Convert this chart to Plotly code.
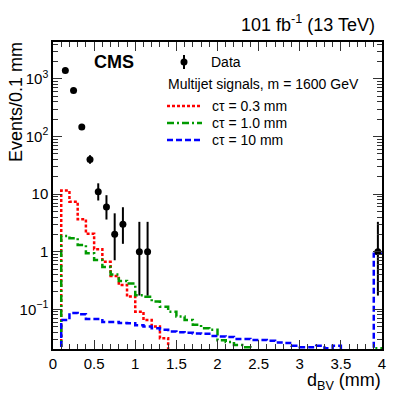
import numpy as np
import plotly.graph_objects as go

# ---------------- data ----------------
bin_low_edges = [round(0.1 * i, 1) for i in range(1, 40)]  # 0.1 ... 3.9 (bin width 0.1 mm)
bin_width = 0.1

data_centers = [0.15, 0.25, 0.35, 0.45, 0.55, 0.65, 0.75, 0.85, 1.05, 1.15, 3.95]
data_counts = [1400, 630, 147, 40, 11, 6, 2, 3, 1, 1, 1]
data_err_up = [38, 25.6, 13.1, 7.4, 4.4, 3.58, 2.64, 2.92, 2.30, 2.30, 2.30]
data_err_down = [37, 25, 12.1, 6.3, 3.25, 2.38, 1.29, 1.63, 0.827, 0.827, 0.827]

sig_ct03 = [11.5, 7.4, 3.66, 2.04, 1.10, 0.67, 0.38, 0.265, 0.166, 0.091, 0.065, 0.050, 0.0315,
            0, 0, 0, 0, 0, 0, 0, 0, 0, 0, 0, 0, 0, 0, 0, 0, 0, 0, 0, 0, 0, 0, 0, 0, 0, 0]
sig_ct10 = [1.88, 1.71, 1.31, 0.94, 0.72, 0.54, 0.40, 0.31, 0.28, 0.175, 0.165, 0.136, 0.111,
            0.091, 0.075, 0.065, 0.054, 0.047, 0.044, 0.029, 0.027, 0.024, 0.022,
            0, 0, 0, 0, 0, 0, 0, 0, 0, 0, 0, 0, 0, 0, 0, 0.021]
sig_ct100 = [0.065, 0.086, 0.082, 0.068, 0.068, 0.060, 0.060, 0.0575, 0.057, 0.053, 0.050, 0.047,
             0.044, 0.041, 0.040, 0.039, 0.038, 0.0374, 0.0345, 0.0336, 0.033, 0.0306, 0.0306,
             0.0294, 0.0294, 0.0283, 0.0264, 0.026, 0.0232, 0.022, 0.022, 0.0232, 0.0211, 0.0232,
             0, 0, 0, 0, 0.92]

sig_labels = ["cτ = 0.3 mm", "cτ = 1.0 mm", "cτ = 10 mm"]
sig_colors = ["#ff0000", "#009a00", "#0000ff"]
sig_dashes = ["3px,2px", "7px,3px,2px,3px", "6px,3px"]

y_tickvals = [0.1, 1, 10, 100, 1000]
y_ticktext = ["10<sup>−1</sup>", "1", "10", "10<sup>2</sup>", "10<sup>3</sup>"]
x_tickvals = [0, 0.5, 1, 1.5, 2, 2.5, 3, 3.5, 4]
x_ticktext = ["0", "0.5", "1", "1.5", "2", "2.5", "3", "3.5", "4"]

# ---------------- figure ----------------
W, H = 407, 393
L, R, T, B = 53, 25, 42, 44
PW, PH = W - L - R, H - T - B
FONT = "Liberation Sans, Arial, sans-serif"
FLOOR = 1e-4


def px(x):
    return (x - L) / PW


def py(y):
    return (H - B - y) / PH


def step_xy(vals):
    xs = [bin_low_edges[0]] + list(bin_low_edges) + [bin_low_edges[-1] + bin_width]
    v = [max(a, FLOOR) for a in vals]
    ys = [FLOOR] + v + [v[-1]]
    return xs, ys


fig = go.Figure()

for vals, col, dash, name in zip([sig_ct03, sig_ct10, sig_ct100], sig_colors, sig_dashes, sig_labels):
    xs, ys = step_xy(vals)
    fig.add_trace(go.Scatter(x=xs, y=ys, mode="lines", line=dict(shape="hv", color=col, width=2.5, dash=dash),
                             name=name, showlegend=False, hoverinfo="skip"))

fig.add_trace(go.Scatter(
    x=data_centers, y=data_counts, mode="markers",
    marker=dict(color="black", size=7),
    error_y=dict(type="data", array=data_err_up, arrayminus=data_err_down, color="black", thickness=2, width=0),
    showlegend=False, name="Data"))

minor_y = [m * 10.0 ** e for e in range(-2, 4) for m in range(2, 10)]

fig.update_layout(
    template="none",
    width=W, height=H,
    margin=dict(l=L, r=R, t=T, b=B, autoexpand=False),
    paper_bgcolor="white", plot_bgcolor="white",
    font=dict(family=FONT, color="black", size=15),
    xaxis=dict(range=[0, 4], tickmode="array", tickvals=x_tickvals, ticktext=x_ticktext,
               ticks="inside", ticklen=9, tickwidth=1, tickcolor="#333", automargin=False,
               showline=True, linecolor="black", linewidth=1.5, mirror="allticks",
               showgrid=False, zeroline=False, tickfont=dict(size=15),
               minor=dict(tickmode="array", tickvals=[round(0.1 * i, 1) for i in range(41)],
                          ticks="inside", ticklen=5, tickcolor="#333", showgrid=False)),
    yaxis=dict(type="log", range=[-1.69, 3.642], tickmode="array", tickvals=y_tickvals, ticktext=y_ticktext,
               ticks="inside", ticklen=9, tickwidth=1, tickcolor="#333", automargin=False,
               showline=True, linecolor="black", linewidth=1.5, mirror="allticks",
               showgrid=False, zeroline=False, tickfont=dict(size=15),
               minor=dict(tickmode="array", tickvals=minor_y, ticks="inside", ticklen=5,
                          tickcolor="#333", showgrid=False)),
)

ann = []
# axis titles
ann.append(dict(text="Events/0.1 mm", x=px(16), y=py(40), xref="paper", yref="paper", textangle=-90,
                xanchor="center", yanchor="top", showarrow=False, font=dict(size=18)))
ann.append(dict(text="d<sub>BV</sub> (mm)", x=px(383), y=py(368), xref="paper", yref="paper",
                xanchor="right", yanchor="top", showarrow=False, font=dict(size=18)))
# header
ann.append(dict(text="101 fb<sup>-1</sup> (13 TeV)", x=px(377), y=py(37), xref="paper", yref="paper",
                xanchor="right", yanchor="bottom", showarrow=False, font=dict(size=18)))
ann.append(dict(text="<b>CMS</b>", x=px(92), y=py(62), xref="paper", yref="paper",
                xanchor="left", yanchor="middle", showarrow=False, font=dict(size=18)))
# legend
ann.append(dict(text="Data", x=px(209), y=py(62), xref="paper", yref="paper",
                xanchor="left", yanchor="middle", showarrow=False, font=dict(size=14)))
ann.append(dict(text="Multijet signals, m = 1600 GeV", x=px(166), y=py(84), xref="paper", yref="paper",
                xanchor="left", yanchor="middle", showarrow=False, font=dict(size=14)))
leg_y = [106, 123, 140]
for lab, ly in zip(sig_labels, leg_y):
    ann.append(dict(text=lab, x=px(210), y=py(ly), xref="paper", yref="paper",
                    xanchor="left", yanchor="middle", showarrow=False, font=dict(size=14)))
fig.update_layout(annotations=ann)

shapes = []
# data legend symbol
shapes.append(dict(type="line", xref="paper", yref="paper", x0=px(184), x1=px(184), y0=py(55), y1=py(69),
                   line=dict(color="black", width=2)))
shapes.append(dict(type="circle", xref="paper", yref="paper", xsizemode="pixel", ysizemode="pixel",
                   xanchor=px(184), yanchor=py(62), x0=-3.5, x1=3.5, y0=-3.5, y1=3.5,
                   fillcolor="black", line=dict(color="black", width=0)))
for col, dash, ly in zip(sig_colors, sig_dashes, leg_y):
    shapes.append(dict(type="line", xref="paper", yref="paper", x0=px(167), x1=px(202), y0=py(ly), y1=py(ly),
                       line=dict(color=col, width=2.5, dash=dash)))
fig.update_layout(shapes=shapes)

fig.write_html("out.html", config={"displayModeBar": False},
               post_script="document.body.style.margin='0px';document.body.style.padding='0px';")
